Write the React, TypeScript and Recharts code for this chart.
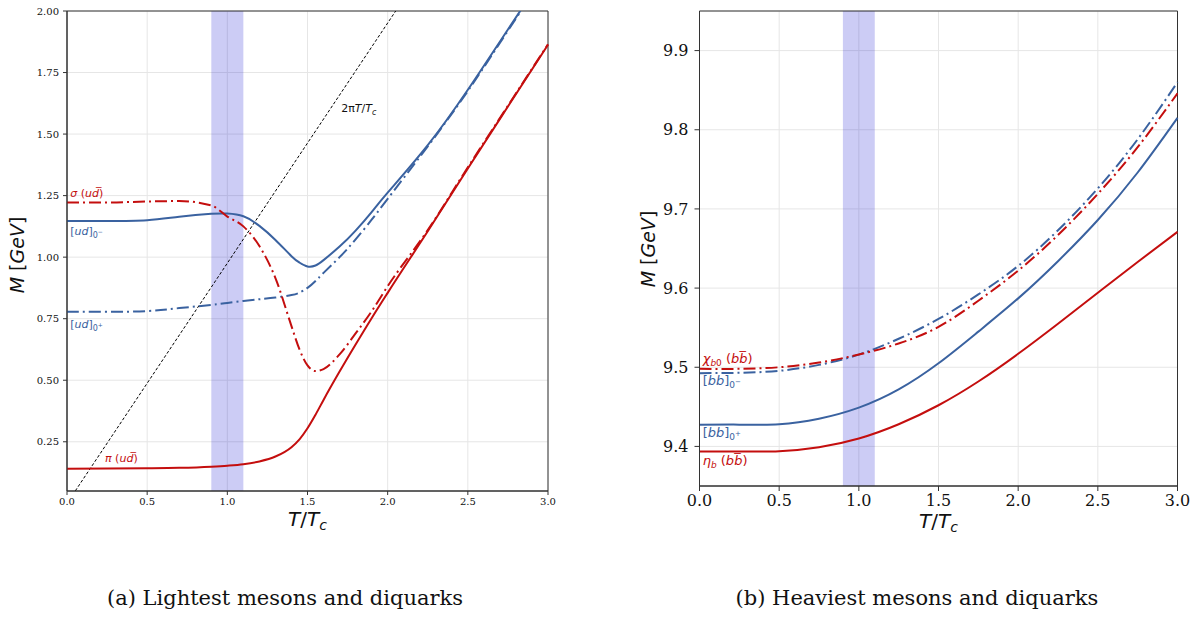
import React from "react";
import {
  CartesianGrid,
  Line,
  LineChart,
  ReferenceArea,
  ReferenceDot,
  XAxis,
  YAxis,
} from "recharts";

// (a) light sector, T/Tc grid shared by all four curves
const lightT = [0, 0.25, 0.5, 0.7, 0.9, 1.0, 1.1, 1.2, 1.3, 1.4, 1.45, 1.5, 1.55, 1.6, 1.7, 1.8, 1.9, 2.0, 2.25, 2.5, 2.75, 3.0];
const sigmaM = [1.222, 1.222, 1.226, 1.228, 1.21, 1.165, 1.125, 1.045, 0.915, 0.72, 0.625, 0.56, 0.537, 0.545, 0.605, 0.69, 0.78, 0.882, 1.11, 1.365, 1.615, 1.865];
const pionM = [0.14, 0.141, 0.142, 0.144, 0.149, 0.153, 0.159, 0.17, 0.19, 0.228, 0.26, 0.305, 0.36, 0.42, 0.535, 0.645, 0.752, 0.855, 1.105, 1.36, 1.612, 1.863];
const udMinusM = [1.147, 1.147, 1.15, 1.164, 1.176, 1.177, 1.166, 1.127, 1.07, 1.004, 0.978, 0.962, 0.966, 0.988, 1.043, 1.108, 1.183, 1.262, 1.455, 1.68, 1.925, 2.17];
const udPlusM = [0.778, 0.778, 0.781, 0.793, 0.806, 0.814, 0.822, 0.829, 0.836, 0.846, 0.856, 0.875, 0.903, 0.936, 1.0, 1.072, 1.152, 1.237, 1.45, 1.675, 1.92, 2.165];
// 2*pi*T/Tc reference line (end points)
const scaleT = [0, 2.05];
const scaleM = [0, 2.0];

// (b) heavy sector
const heavyT = [0, 0.25, 0.5, 0.75, 1.0, 1.25, 1.5, 1.75, 2.0, 2.25, 2.5, 2.75, 3.0];
const chiM = [9.498, 9.498, 9.5, 9.506, 9.516, 9.53, 9.551, 9.584, 9.622, 9.667, 9.719, 9.778, 9.846];
const etaM = [9.3935, 9.3935, 9.394, 9.399, 9.41, 9.428, 9.452, 9.482, 9.517, 9.555, 9.594, 9.633, 9.671];
const bbMinusM = [9.4925, 9.493, 9.4955, 9.503, 9.516, 9.536, 9.561, 9.592, 9.628, 9.673, 9.726, 9.788, 9.86];
const bbPlusM = [9.4275, 9.4275, 9.428, 9.435, 9.449, 9.472, 9.505, 9.545, 9.587, 9.634, 9.686, 9.746, 9.815];

const xTicks = [0, 0.5, 1, 1.5, 2, 2.5, 3];
const lightYTicks = [0.25, 0.5, 0.75, 1.0, 1.25, 1.5, 1.75, 2.0];
const heavyYTicks = [9.4, 9.5, 9.6, 9.7, 9.8, 9.9];
const band = [0.9, 1.1];

const RED = "#c40e0e";
const BLUE = "#3a62a0";
const DASHDOT = "12 4 2 4";
const SANS = "DejaVu Sans";
const SERIF = "DejaVu Serif";

const lightData = lightT.map((T, i) => ({
  T,
  sigma: sigmaM[i],
  pion: pionM[i],
  udMinus: udMinusM[i],
  udPlus: udPlusM[i],
}));
const scaleData = scaleT.map((T, i) => ({ T, scale: scaleM[i] }));
const heavyData = heavyT.map((T, i) => ({
  T,
  chi: chiM[i],
  eta: etaM[i],
  bbMinus: bbMinusM[i],
  bbPlus: bbPlusM[i],
}));

const tag = (body: React.ReactNode, color: string, size: number) => ({
  content: ({ viewBox }: any) => (
    <text x={viewBox.x} y={viewBox.y} fill={color} fontSize={size} fontFamily={SANS}>
      {body}
    </text>
  ),
});

const I = ({ children }: { children: React.ReactNode }) => (
  <tspan fontStyle="italic">{children}</tspan>
);

const xTitle = (dy: number) => ({
  content: ({ viewBox }: any) => (
    <text
      x={viewBox.x + viewBox.width / 2}
      y={viewBox.y + dy}
      textAnchor="middle"
      fontFamily={SANS}
      fontSize={20}
      fill="#111"
    >
      <I>T</I>/<I>T</I>
      <tspan fontSize={14} dy={4} fontStyle="italic">c</tspan>
    </text>
  ),
});

const yTitle = (x: number, y: number) => ({
  content: () => (
    <text
      x={x}
      y={y}
      transform={`rotate(-90 ${x} ${y})`}
      textAnchor="middle"
      fontFamily={SANS}
      fontSize={19}
      fill="#111"
    >
      <I>M</I>
      {"  ["}
      <I>GeV</I>]
    </text>
  ),
});

function LightChart() {
  return (
    <LineChart
      width={560}
      height={540}
      data={lightData}
      margin={{ top: 11, right: 12, bottom: 0, left: 0 }}
    >
      <CartesianGrid stroke="#e6e6e6" strokeWidth={1} />
      <XAxis
        dataKey="T"
        type="number"
        domain={[0, 3]}
        ticks={xTicks}
        tickFormatter={(v: number) => v.toFixed(1)}
        height={49}
        stroke="#333"
        tickSize={4}
        tickMargin={3}
        tick={{ fill: "#111", fontSize: 10, fontFamily: SERIF }}
        label={xTitle(35)}
      />
      <YAxis
        type="number"
        domain={[0.05, 2.0]}
        ticks={lightYTicks}
        allowDataOverflow
        tickFormatter={(v: number) => v.toFixed(2)}
        width={67}
        stroke="#333"
        tickSize={4}
        tickMargin={4}
        tick={{ fill: "#111", fontSize: 10, fontFamily: SERIF }}
        label={yTitle(24, 255)}
      />
      <ReferenceArea x1={band[0]} x2={band[1]} fill="#0000cc" fillOpacity={0.2} stroke="none" />
      <Line
        data={scaleData}
        dataKey="scale"
        stroke="#000"
        strokeWidth={1}
        strokeDasharray="3 2"
        dot={false}
        isAnimationActive={false}
      />
      <Line type="monotone" dataKey="pion" stroke={RED} strokeWidth={2} dot={false} isAnimationActive={false} />
      <Line type="natural" dataKey="udMinus" stroke={BLUE} strokeWidth={2} dot={false} isAnimationActive={false} />
      <Line type="natural" dataKey="udPlus" stroke={BLUE} strokeWidth={2} strokeDasharray={DASHDOT} dot={false} isAnimationActive={false} />
      <Line type="monotone" dataKey="sigma" stroke={RED} strokeWidth={2} strokeDasharray={DASHDOT} dot={false} isAnimationActive={false} />
      <ReferenceArea y1={0.05} y2={2.0} fill="none" stroke="#333" strokeWidth={1} />
      <ReferenceDot x={0.02} y={1.246} r={0} stroke="none" label={tag(<><I>σ</I>{"  ("}<I>u</I><I>{"d\u0305"}</I>)</>, RED, 11)} />
      <ReferenceDot x={0.02} y={1.092} r={0} stroke="none" label={tag(<>[<I>ud</I>]<tspan fontSize={8} dy={3}>0</tspan><tspan fontSize={6} dy={-4}>−</tspan></>, BLUE, 11)} />
      <ReferenceDot x={0.02} y={0.714} r={0} stroke="none" label={tag(<>[<I>ud</I>]<tspan fontSize={8} dy={3}>0</tspan><tspan fontSize={6} dy={-4}>+</tspan></>, BLUE, 11)} />
      <ReferenceDot x={0.237} y={0.166} r={0} stroke="none" label={tag(<><I>π</I>{"  ("}<I>u</I><I>{"d\u0305"}</I>)</>, RED, 11)} />
      <ReferenceDot x={1.71} y={1.591} r={0} stroke="none" label={tag(<>2π<I>T</I>/<I>T</I><tspan fontSize={8} dy={3} fontStyle="italic">c</tspan></>, "#111", 11)} />
    </LineChart>
  );
}

function HeavyChart() {
  return (
    <LineChart
      width={570}
      height={540}
      data={heavyData}
      margin={{ top: 11, right: 12.5, bottom: 0, left: 0 }}
    >
      <CartesianGrid stroke="#e6e6e6" strokeWidth={1} />
      <XAxis
        dataKey="T"
        type="number"
        domain={[0, 3]}
        ticks={xTicks}
        tickFormatter={(v: number) => v.toFixed(1)}
        height={54}
        stroke="#333"
        tickSize={5}
        tickMargin={4}
        tick={{ fill: "#111", fontSize: 16, fontFamily: SERIF }}
        label={xTitle(42)}
      />
      <YAxis
        type="number"
        domain={[9.35, 9.95]}
        ticks={heavyYTicks}
        allowDataOverflow
        tickFormatter={(v: number) => v.toFixed(1)}
        width={79.5}
        stroke="#333"
        tickSize={5}
        tickMargin={6}
        tick={{ fill: "#111", fontSize: 16, fontFamily: SERIF }}
        label={yTitle(35, 249)}
      />
      <ReferenceArea x1={band[0]} x2={band[1]} fill="#0000cc" fillOpacity={0.2} stroke="none" />
      <Line type="natural" dataKey="eta" stroke={RED} strokeWidth={2} dot={false} isAnimationActive={false} />
      <Line type="natural" dataKey="bbPlus" stroke={BLUE} strokeWidth={2} dot={false} isAnimationActive={false} />
      <Line type="natural" dataKey="bbMinus" stroke={BLUE} strokeWidth={2} strokeDasharray={DASHDOT} dot={false} isAnimationActive={false} />
      <Line type="natural" dataKey="chi" stroke={RED} strokeWidth={2} strokeDasharray={DASHDOT} dot={false} isAnimationActive={false} />
      <ReferenceArea y1={9.35} y2={9.95} fill="none" stroke="#333" strokeWidth={1} />
      <ReferenceDot x={0.02} y={9.505} r={0} stroke="none" label={tag(<><I>χ</I><tspan fontSize={9} dy={3} fontStyle="italic">b</tspan><tspan fontSize={9}>0</tspan><tspan dy={-3}>{"  ("}</tspan><I>b</I><I>{"b\u0305"}</I>)</>, RED, 13)} />
      <ReferenceDot x={0.02} y={9.477} r={0} stroke="none" label={tag(<>[<I>bb</I>]<tspan fontSize={9} dy={3}>0</tspan><tspan fontSize={7} dy={-4}>−</tspan></>, BLUE, 13)} />
      <ReferenceDot x={0.02} y={9.4117} r={0} stroke="none" label={tag(<>[<I>bb</I>]<tspan fontSize={9} dy={3}>0</tspan><tspan fontSize={7} dy={-4}>+</tspan></>, BLUE, 13)} />
      <ReferenceDot x={0.02} y={9.376} r={0} stroke="none" label={tag(<><I>η</I><tspan fontSize={9} dy={3} fontStyle="italic">b</tspan><tspan dy={-3}>{"  ("}</tspan><I>b</I><I>{"b\u0305"}</I>)</>, RED, 13)} />
    </LineChart>
  );
}

const caption: React.CSSProperties = {
  position: "absolute",
  top: 586,
  width: 560,
  textAlign: "center",
  fontFamily: SERIF,
  fontSize: 21,
  color: "#111",
};

export default function App() {
  return (
    <div style={{ position: "absolute", left: 0, top: 0, width: 1197, height: 617, background: "#fff" }}>
      <div style={{ position: "absolute", left: 0, top: 0 }}>
        <LightChart />
      </div>
      <div style={{ position: "absolute", left: 620, top: 0 }}>
        <HeavyChart />
      </div>
      <div style={{ ...caption, left: 5 }}>(a) Lightest mesons and diquarks</div>
      <div style={{ ...caption, left: 637 }}>(b) Heaviest mesons and diquarks</div>
    </div>
  );
}
